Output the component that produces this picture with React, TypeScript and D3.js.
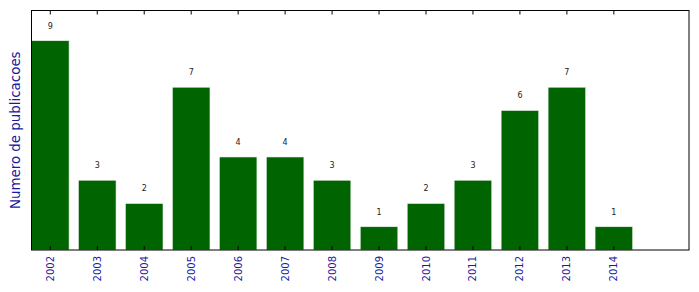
import React from "react";
import * as d3 from "d3";

const years = ["2002","2003","2004","2005","2006","2007","2008","2009","2010","2011","2012","2013","2014"];
const counts = [9, 3, 2, 7, 4, 4, 3, 1, 2, 3, 6, 7, 1];

export default function App() {
  const W = 699, H = 292;
  const left = 31.5, right = 689, top = 10.5, bottom = 250;
  const x = d3.scaleLinear().domain([0, 14]).range([left, right]);
  const y = d3.scaleLinear().domain([0, 10.3]).range([bottom, top]);
  const barW = 0.8;
  return (
    <svg width={W} height={H} style={{ position: "absolute", left: 0, top: 0 }} fontFamily="DejaVu Sans">
      <rect x={0} y={0} width={W} height={H} fill="white" />
      {counts.map((c, i) => (
        <g key={i}>
          <rect x={x(i)} y={y(c)} width={x(i + barW) - x(i)} height={bottom - y(c)} fill="#006400" stroke="#e8f0e8" strokeWidth={0.6} />
          <text x={x(i + barW / 2)} y={y(c) - 12} fontSize={8} textAnchor="middle" fill="#222">{c}</text>
          <line x1={x(i + barW / 2)} x2={x(i + barW / 2)} y1={bottom} y2={bottom - 4} stroke="black" />
          <line x1={x(i + barW / 2)} x2={x(i + barW / 2)} y1={top} y2={top + 4} stroke="black" />
          <text transform={`translate(${x(i + barW / 2) + 3.5},${bottom + 6}) rotate(-90)`} fontSize={10} textAnchor="end" fill="#1a1aa0">{years[i]}</text>
        </g>
      ))}
      <rect x={left} y={top} width={right - left} height={bottom - top} fill="none" stroke="black" strokeWidth={1} />
      <text transform={`translate(20,${(top + bottom) / 2}) rotate(-90)`} fontSize={13.4} textAnchor="middle" fill="#1a1aa0">Numero de publicacoes</text>
    </svg>
  );
}
